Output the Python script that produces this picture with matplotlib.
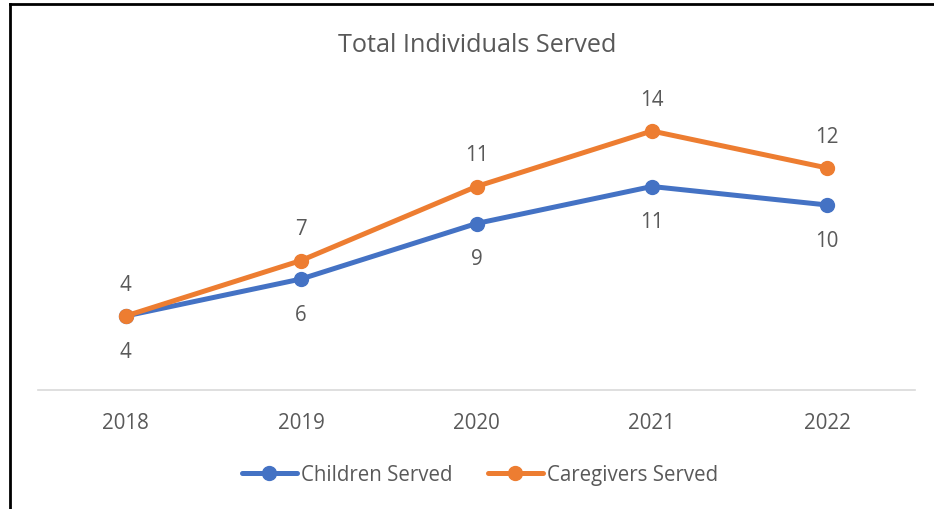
import matplotlib
matplotlib.use("Agg")
import matplotlib.pyplot as plt
from matplotlib.lines import Line2D

years = ["2018", "2019", "2020", "2021", "2022"]
children = [4, 6, 9, 11, 10]
caregivers = [4, 7, 11, 14, 12]
title = "Total Individuals Served"

plt.rcParams['font.family'] = ['Open Sans', 'DejaVu Sans']
txt = "#595959"
blue = "#4472C4"
orange = "#ED7D31"
fs = 14.8

fig = plt.figure(figsize=(9.34, 5.10), dpi=100)
ax = fig.add_axes([38/934, 1-391/510, (915-38)/934, (391-95)/510])

x = list(range(len(years)))
ax.plot(x, children, color=blue, lw=3.6, marker='o', ms=10, solid_capstyle='round', label="Children Served", zorder=3)
ax.plot(x, caregivers, color=orange, lw=3.6, marker='o', ms=10, solid_capstyle='round', label="Caregivers Served", zorder=4)

for xi, v in zip(x, children):
    ax.annotate(str(v), (xi, v), xytext=(0, -25.5), textcoords='offset points',
                ha='center', va='center', fontsize=fs, color=txt)
for xi, v in zip(x, caregivers):
    ax.annotate(str(v), (xi, v), xytext=(0, 23), textcoords='offset points',
                ha='center', va='center', fontsize=fs, color=txt)

ax.set_xlim(-0.5, len(years) - 0.5)
ax.set_ylim(0, 16)
ax.set_xticks(x)
ax.set_xticklabels(years, fontsize=fs, color=txt)
ax.set_yticks([])
for s in ['top', 'right', 'left']:
    ax.spines[s].set_visible(False)
ax.spines['bottom'].set_color('#D9D9D9')
ax.spines['bottom'].set_linewidth(1.2)
ax.tick_params(axis='x', length=0, pad=16)

fig.text(477/934, 1-46/510, title, ha='center', va='center', fontsize=18.2, color=txt)

leg = fig.legend(loc='center', bbox_to_anchor=(480/934, 1-476/510), ncol=2, frameon=False,
                 fontsize=fs, handlelength=2.7, handletextpad=0.2, columnspacing=1.7)
for t in leg.get_texts():
    t.set_color(txt)

# border lines (top and left)
fig.add_artist(Line2D([10/934, 1], [1-5/510, 1-5/510], transform=fig.transFigure, color='black', lw=2))
fig.add_artist(Line2D([10/934, 10/934], [0, 1-5/510], transform=fig.transFigure, color='black', lw=2))

fig.savefig("out.png", dpi=100)
